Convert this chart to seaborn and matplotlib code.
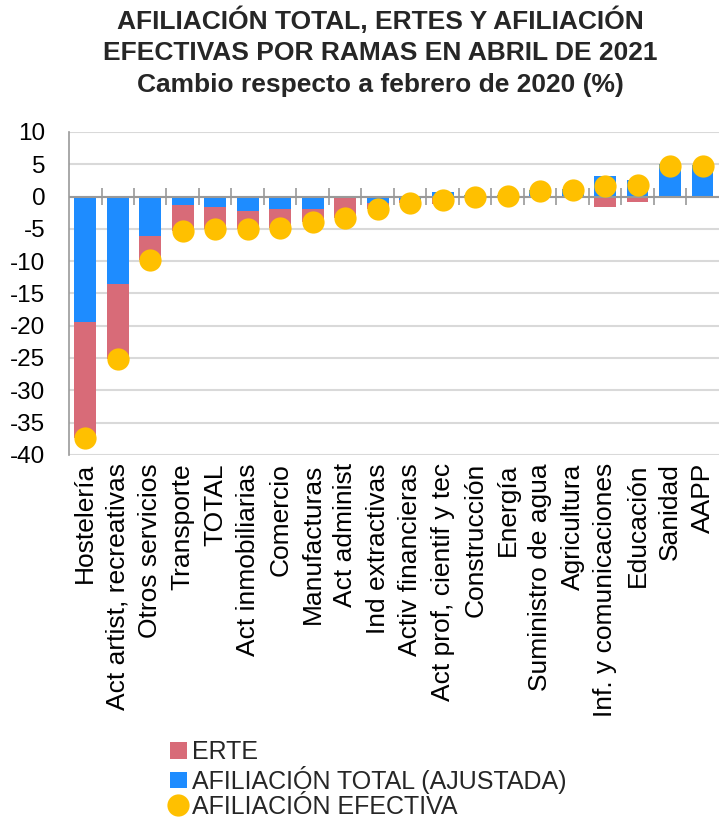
import numpy as np
import pandas as pd
import matplotlib
matplotlib.use("Agg")
import matplotlib.pyplot as plt
import seaborn as sns
from matplotlib.patches import Patch
from matplotlib.lines import Line2D

# ramas, ordenadas como en el gráfico
ramas = ["Hostelería", "Act artist, recreativas", "Otros servicios", "Transporte",
         "TOTAL", "Act inmobiliarias", "Comercio", "Manufacturas", "Act administ",
         "Ind extractivas", "Activ financieras", "Act prof, cientif y tec",
         "Construcción", "Energía", "Suministro de agua", "Agricultura",
         "Inf. y comunicaciones", "Educación", "Sanidad", "AAPP"]

# cambio respecto a febrero 2020 (%)
afil_total = [-19.4, -13.5, -6.05, -1.25, -1.6, -2.3, -1.9, -2.0, 0.0, -1.0,
              -0.55, 0.65, 0.2, 0.2, 1.0, 1.1, 3.25, 2.6, 5.0, 4.85]
erte = [-18.0, -11.6, -3.85, -4.15, -3.5, -2.8, -3.0, -2.0, -3.3, -0.9,
        -0.5, -1.2, -0.3, -0.15, -0.07, -0.07, -1.6, -0.8, -0.3, -0.05]
afil_efectiva = [-37.4, -25.1, -9.9, -5.4, -5.1, -5.1, -4.9, -4.0, -3.3, -1.9,
                 -1.05, -0.55, -0.1, 0.05, 0.93, 1.03, 1.6, 1.85, 4.7, 4.8]

ROJO = "#D86B78"
AZUL = "#1E8CFF"
AMARILLO = "#FFC000"

df = pd.DataFrame({"rama": ramas, "total": afil_total, "erte": erte,
                   "efectiva": afil_efectiva})
# ERTE se apila debajo de la afiliación total cuando ésta es negativa
df["erte_fin"] = np.where(df["total"] < 0, df["total"] + df["erte"], df["erte"])

sns.set_theme(style="white")
plt.rcParams["font.family"] = ["Liberation Sans", "DejaVu Sans"]
plt.rcParams["axes.unicode_minus"] = False

fig = plt.figure(figsize=(7.22, 8.30), dpi=100)
ax = fig.add_axes([0.0956, 0.452, 0.90, 0.389])

sns.barplot(data=df, x="rama", y="erte_fin", color=ROJO, saturation=1,
            width=0.67, linewidth=0, ax=ax, zorder=2)
sns.barplot(data=df, x="rama", y="total", color=AZUL, saturation=1,
            width=0.67, linewidth=0, ax=ax, zorder=2)
sns.stripplot(data=df, x="rama", y="efectiva", color=AMARILLO, jitter=False,
              size=16, linewidth=0, ax=ax, zorder=4)

n = len(ramas)
ax.set_xlim(-0.5, n - 0.5)
ax.set_ylim(-40, 10)
ax.set_yticks(range(-40, 11, 5))
ax.yaxis.grid(True, color="#D9D9D9", linewidth=1.5, zorder=0)
ax.set_axisbelow(True)

# línea de cero con marcas entre categorías
ax.axhline(0, color="#999999", linewidth=1.5, zorder=3)
ax.vlines(np.arange(1, n) - 0.5, -1.25, 1.25, color="#999999", linewidth=1.2, zorder=3)

for s in ["top", "right", "bottom"]:
    ax.spines[s].set_visible(False)
ax.spines["left"].set_color("#999999")
ax.spines["left"].set_linewidth(1.2)

ax.set_xlabel("")
ax.set_ylabel("")
ax.tick_params(axis="y", length=0, pad=17, labelsize=17.5, labelcolor="black")
ax.tick_params(axis="x", length=0, pad=6, labelsize=19, labelcolor="black")
plt.setp(ax.get_xticklabels(), rotation=90, ha="center", va="top")

fig.text(0.527, 0.992,
         "AFILIACIÓN TOTAL, ERTES Y AFILIACIÓN\nEFECTIVAS POR RAMAS EN ABRIL DE 2021\nCambio respecto a febrero de 2020 (%)",
         ha="center", va="top", fontsize=19, fontweight="bold", linespacing=1.38)

handles = [
    Patch(facecolor=ROJO, edgecolor="none"),
    Patch(facecolor=AZUL, edgecolor="none"),
    Line2D([], [], marker="o", linestyle="none", markersize=16,
           markerfacecolor=AMARILLO, markeredgecolor="none"),
]
labels = ["ERTE", "AFILIACIÓN TOTAL (AJUSTADA)", "AFILIACIÓN EFECTIVA"]
fig.legend(handles, labels, loc="upper left", bbox_to_anchor=(0.222, 0.12),
           frameon=False, fontsize=18, handlelength=0.65, handleheight=0.65,
           handletextpad=0.2, labelspacing=0.05, borderaxespad=0)

fig.savefig("out.png", dpi=100, facecolor="white")
